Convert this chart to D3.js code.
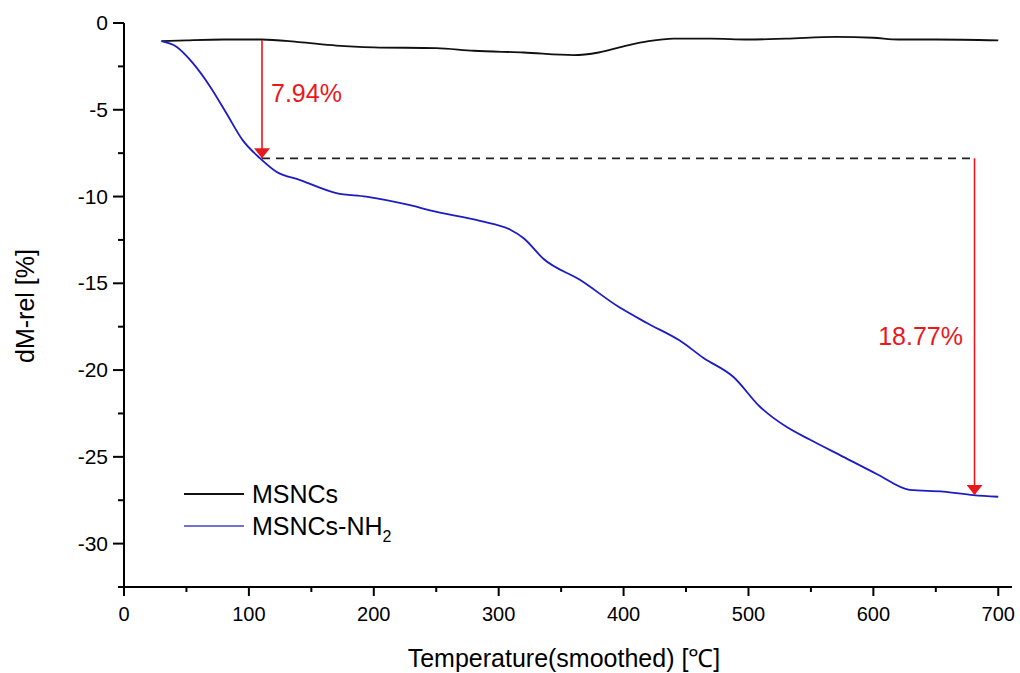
<!DOCTYPE html>
<html>
<head>
<meta charset="utf-8">
<script src="https://cdn.jsdelivr.net/npm/d3@7"></script>
<style>
  body { margin: 0; background: #fff; }
  text { font-family: "Liberation Sans", Arial, sans-serif; }
</style>
</head>
<body>
<svg id="chart"></svg>
<script>
// Canvas size
const width = 1020;
const height = 673;

// Temperature (°C) and dM-rel (%)
const tempA = [30, 50, 80, 110, 140, 170, 200, 250, 280, 320, 360, 380, 400, 420, 440, 470, 500, 530, 570, 600, 620, 650, 700];
const msncs = [-1.05, -1.0, -0.95, -0.95, -1.1, -1.3, -1.4, -1.45, -1.6, -1.7, -1.85, -1.7, -1.35, -1.05, -0.9, -0.9, -0.95, -0.9, -0.8, -0.85, -0.95, -0.95, -1.0];

const tempB = [30, 42, 55, 69, 82, 95, 109, 122, 141, 170, 194, 229, 245, 285, 309, 320, 336, 365, 397, 419, 445, 464, 488, 509, 531, 549, 576, 603, 629, 656, 680, 700];
const msncsNH2 = [-1.05, -1.37, -2.3, -3.67, -5.2, -6.75, -7.8, -8.57, -9.05, -9.8, -10.0, -10.5, -10.8, -11.4, -11.9, -12.4, -13.6, -14.8, -16.4, -17.3, -18.3, -19.3, -20.4, -22.1, -23.3, -24.0, -25.0, -26.0, -26.9, -27.0, -27.2, -27.3];

// Annotations: [temperature, from, to, label]
const arrowTemps = [110.5, 681];
const arrowFrom = [-0.98, -7.8];
const arrowTo = [-7.8, -27.2];
const arrowLabels = ["7.94%", "18.77%"];
const dashLevel = -7.8;

const xTicks = [0, 100, 200, 300, 400, 500, 600, 700];
const yTicks = [0, -5, -10, -15, -20, -25, -30];

const svg = d3.select("#chart")
    .attr("width", width)
    .attr("height", height);

const x = d3.scaleLinear().domain([0, 711]).range([124, 1012]);
const y = d3.scaleLinear().domain([-32.5, 0]).range([587, 23]);

// y axis
const yAxis = svg.append("g").attr("transform", "translate(124,0)");
yAxis.append("line").attr("x1", 0).attr("x2", 0).attr("y1", y(0)).attr("y2", y(-32.5) + 1)
    .attr("stroke", "#000").attr("stroke-width", 2);
d3.range(0, -32.6, -2.5).forEach(v => {
    const major = v % 5 === 0;
    yAxis.append("line").attr("x1", major ? -11 : -6).attr("x2", 0)
        .attr("y1", y(v)).attr("y2", y(v)).attr("stroke", "#000").attr("stroke-width", 2);
});
yAxis.selectAll("text.tick").data(yTicks).join("text")
    .attr("x", -16).attr("y", d => y(d) + 7)
    .attr("text-anchor", "end").attr("font-size", 21).text(d => d);

// x axis
const xAxis = svg.append("g").attr("transform", "translate(0,587)");
xAxis.append("line").attr("x1", 118).attr("x2", x(711)).attr("y1", 0).attr("y2", 0)
    .attr("stroke", "#000").attr("stroke-width", 2);
d3.range(0, 701, 50).forEach(v => {
    const major = v % 100 === 0;
    xAxis.append("line").attr("x1", x(v)).attr("x2", x(v)).attr("y1", 0).attr("y2", major ? 9 : 5)
        .attr("stroke", "#000").attr("stroke-width", 2);
});
xAxis.selectAll("text.tick").data(xTicks).join("text")
    .attr("x", d => x(d)).attr("y", 34)
    .attr("text-anchor", "middle").attr("font-size", 20).text(d => d);

// axis titles
svg.append("text").attr("x", 564).attr("y", 667).attr("text-anchor", "middle")
    .attr("font-size", 25).text("Temperature(smoothed) [℃]");
svg.append("text").attr("transform", "translate(34,306) rotate(-90)")
    .attr("text-anchor", "middle").attr("font-size", 25).text("dM-rel [%]");

// curves
const line = d3.line().curve(d3.curveMonotoneX);
svg.append("path")
    .attr("d", line(tempA.map((t, i) => [x(t), y(msncs[i])])))
    .attr("fill", "none").attr("stroke", "#111").attr("stroke-width", 1.8);
svg.append("path")
    .attr("d", line(tempB.map((t, i) => [x(t), y(msncsNH2[i])])))
    .attr("fill", "none").attr("stroke", "#1c1cc4").attr("stroke-width", 1.8);

// dashed reference line
svg.append("line").attr("x1", x(arrowTemps[0])).attr("x2", x(arrowTemps[1]))
    .attr("y1", y(dashLevel)).attr("y2", y(dashLevel))
    .attr("stroke", "#222").attr("stroke-width", 1.6).attr("stroke-dasharray", "8,6");

// red arrows
svg.append("defs").append("marker")
    .attr("id", "head").attr("viewBox", "0 0 10 16").attr("refX", 10).attr("refY", 8)
    .attr("markerWidth", 10).attr("markerHeight", 16).attr("markerUnits", "userSpaceOnUse")
    .attr("orient", "auto")
    .append("path").attr("d", "M0,0 L10,8 L0,16 Z").attr("fill", "#e8181c");
arrowTemps.forEach((t, i) => {
    svg.append("line").attr("x1", x(t)).attr("x2", x(t))
        .attr("y1", y(arrowFrom[i])).attr("y2", y(arrowTo[i]))
        .attr("stroke", "#e8181c").attr("stroke-width", 1.6)
        .attr("marker-end", "url(#head)");
});
svg.append("text").attr("x", 271).attr("y", 102).attr("fill", "#e8181c")
    .attr("font-size", 25).text(arrowLabels[0]);
svg.append("text").attr("x", 963).attr("y", 345).attr("fill", "#e8181c")
    .attr("text-anchor", "end").attr("font-size", 25).text(arrowLabels[1]);

// legend
const legend = svg.append("g");
legend.append("line").attr("x1", 184).attr("x2", 244).attr("y1", 494).attr("y2", 494)
    .attr("stroke", "#111").attr("stroke-width", 1.8);
legend.append("text").attr("x", 252).attr("y", 503).attr("font-size", 25).text("MSNCs");
legend.append("line").attr("x1", 184).attr("x2", 244).attr("y1", 526).attr("y2", 526)
    .attr("stroke", "#7070d8").attr("stroke-width", 1.8);
const t2 = legend.append("text").attr("x", 252).attr("y", 535).attr("font-size", 25);
t2.append("tspan").text("MSNCs-NH");
t2.append("tspan").attr("font-size", 16).attr("dy", 7).text("2");
</script>
</body>
</html>
